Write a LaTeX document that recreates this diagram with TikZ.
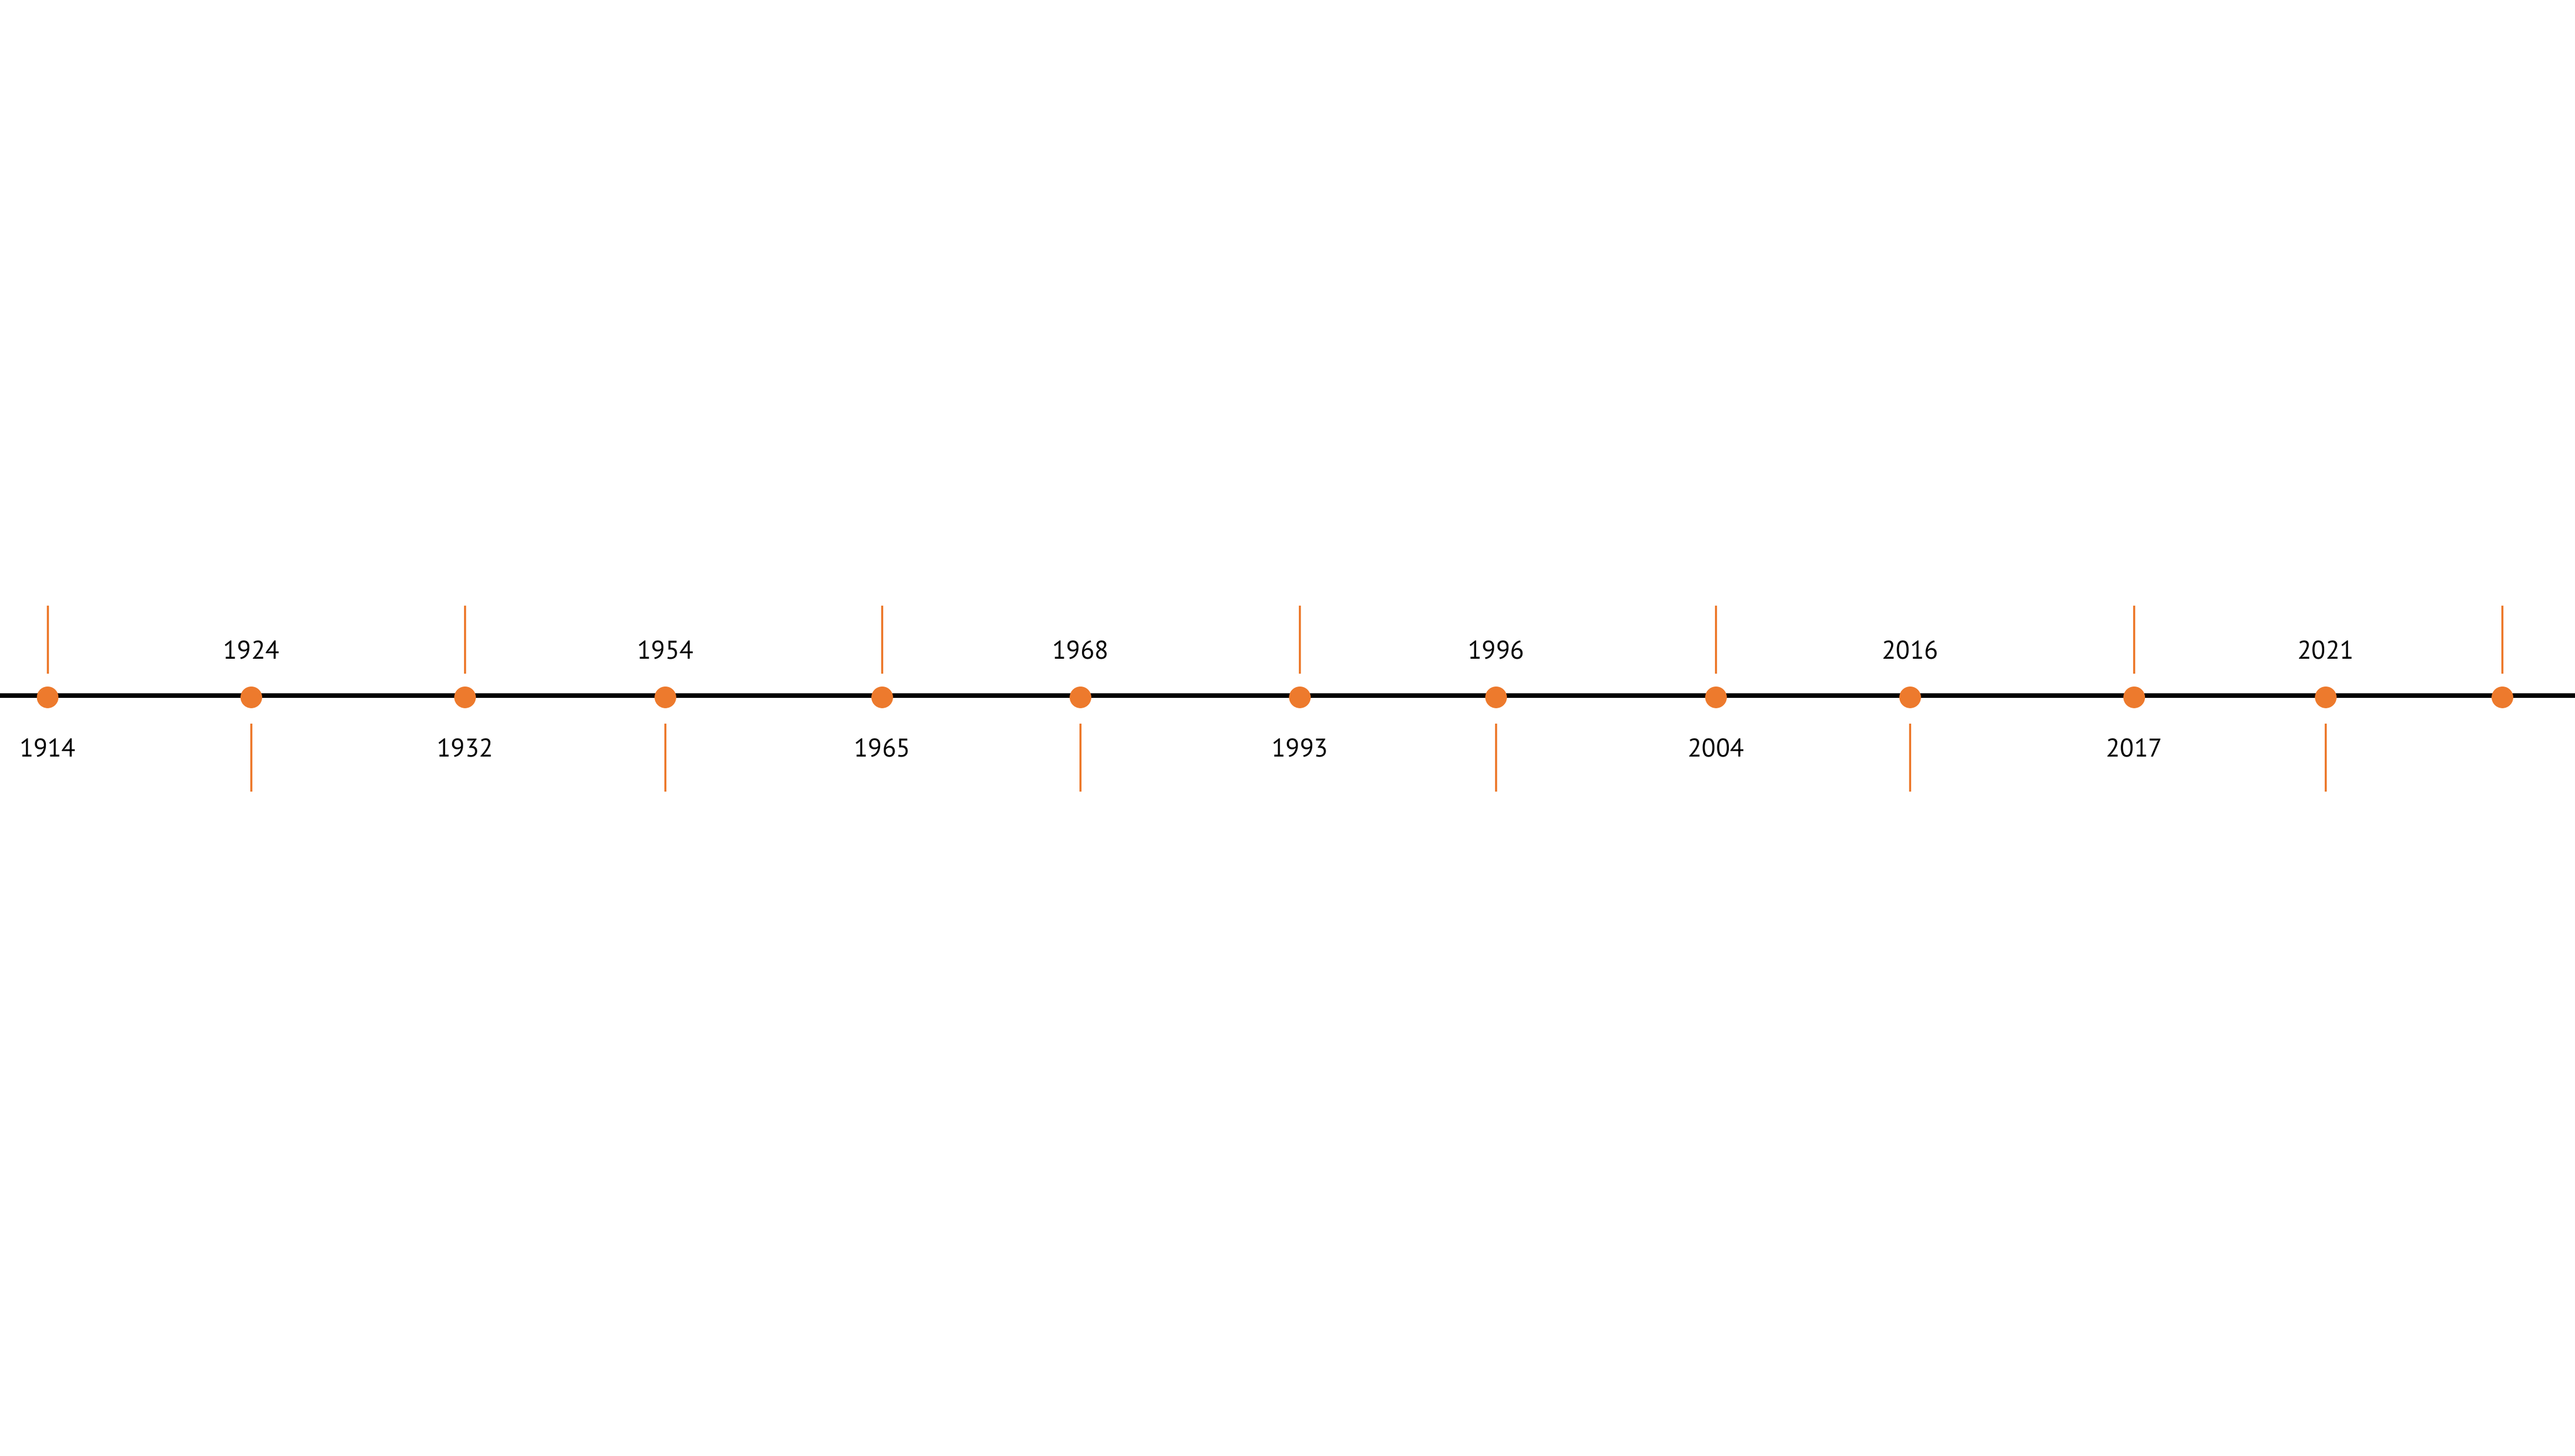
\documentclass[tikz,border=0pt]{standalone}
\usepackage{fontspec}
\setmainfont{PT Sans}
\definecolor{eventorange}{HTML}{ED7A2D}
\begin{document}
\begin{tikzpicture}[thick,
    event dot/.style={circle,fill=eventorange,inner sep=0pt,minimum size=0.42cm},
    year/.style={font=\fontsize{14.2}{17}\selectfont,anchor=base},
    timeline/.style={line width=0.09cm,black},
    tick/.style={eventorange,line width=0.04cm}]
                    \useasboundingbox (0,0) rectangle (50,28.26);
                    \coordinate (start) at (0, 14.75);
                    \coordinate (end) at (50, 14.75);
                    \draw[timeline] (start) -- (end);

                    \node[event dot] at (0.925, 14.72) (d1) {};
                    \node[event dot] at (4.88, 14.72) (d2) {};
                    \node[event dot] at (9.03, 14.72) (d3) {};
                    \node[event dot] at (12.92, 14.72) (d4) {};
                    \node[event dot] at (17.13, 14.72) (d5) {};
                    \node[event dot] at (20.98, 14.72) (d6) {};
                    \node[event dot] at (25.24, 14.72) (d7) {};
                    \node[event dot] at (29.05, 14.72) (d8) {};
                    \node[event dot] at (33.32, 14.72) (d9) {};
                    \node[event dot] at (37.09, 14.72) (d10) {};
                    \node[event dot] at (41.44, 14.72) (d11) {};
                    \node[event dot] at (45.16, 14.72) (d12) {};
                    \node[event dot] at (48.59, 14.72) (d13) {};

                    \node[year] at (0.925, 13.56) (y1914) {1914};
                    \node[year] at (4.88, 15.46) (y1924) {1924};
                    \node[year] at (9.03, 13.56) (y1932) {1932};
                    \node[year] at (12.92, 15.46) (y1954) {1954};
                    \node[year] at (17.13, 13.56) (y1965) {1965};
                    \node[year] at (20.98, 15.46) (y1968) {1968};
                    \node[year] at (25.24, 13.56) (y1993) {1993};
                    \node[year] at (29.05, 15.46) (y1996) {1996};
                    \node[year] at (33.32, 13.56) (y2004) {2004};
                    \node[year] at (37.09, 15.46) (y2016) {2016};
                    \node[year] at (41.44, 13.56) (y2017) {2017};
                    \node[year] at (45.16, 15.46) (y2021) {2021};

                    \draw[tick] (d1.center) ++(0, 0.46) -- ++(0, 1.32);
                    \draw[tick] (d2.center) ++(0, -0.51) -- ++(0, -1.32);
                    \draw[tick] (d3.center) ++(0, 0.46) -- ++(0, 1.32);
                    \draw[tick] (d4.center) ++(0, -0.51) -- ++(0, -1.32);
                    \draw[tick] (d5.center) ++(0, 0.46) -- ++(0, 1.32);
                    \draw[tick] (d6.center) ++(0, -0.51) -- ++(0, -1.32);
                    \draw[tick] (d7.center) ++(0, 0.46) -- ++(0, 1.32);
                    \draw[tick] (d8.center) ++(0, -0.51) -- ++(0, -1.32);
                    \draw[tick] (d9.center) ++(0, 0.46) -- ++(0, 1.32);
                    \draw[tick] (d10.center) ++(0, -0.51) -- ++(0, -1.32);
                    \draw[tick] (d11.center) ++(0, 0.46) -- ++(0, 1.32);
                    \draw[tick] (d12.center) ++(0, -0.51) -- ++(0, -1.32);
                    \draw[tick] (d13.center) ++(0, 0.46) -- ++(0, 1.32);
                \end{tikzpicture}
\end{document}
